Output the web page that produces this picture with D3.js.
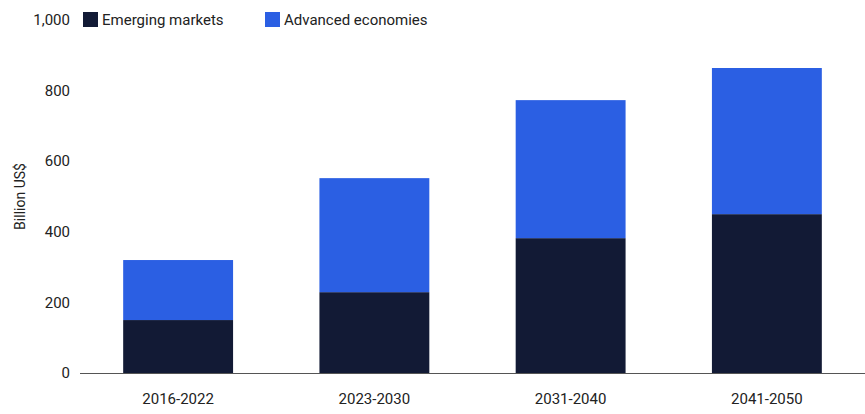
<!DOCTYPE html>
<html><head><meta charset="utf-8">
<script src="https://cdn.jsdelivr.net/npm/d3@7"></script>
<style>body{margin:0;background:#fff;font-family:"Roboto","Liberation Sans",sans-serif}</style>
</head><body><svg id="c" width="865" height="414"></svg>
<script>
categories = ["2016-2022", "2023-2030", "2031-2040", "2041-2050"]
emerging = [150, 229, 382, 450]
advanced = [170, 323, 391, 414]
y_ticks = [0, 200, 400, 600, 800, 1000]
series_names = ["Emerging markets", "Advanced economies"]
colors = ["#121a35", "#2b5fe3"]

var svg = d3.select("#c")
var x = d3.scaleBand().domain(categories).range([80, 865]).paddingInner(0.44).paddingOuter(0.22)
var y = d3.scaleLinear().domain([0, 1000]).range([373, 20])

// y axis labels
svg.append("g")
  .selectAll("text").data(y_ticks).join("text")
  .attr("x", 70).attr("y", d => y(d)).attr("dy", "0.35em")
  .attr("text-anchor", "end").attr("font-size", 15).attr("fill", "#222")
  .text(d => d3.format(",")(d))

svg.append("text")
  .attr("transform", "translate(25," + y(500) + ") rotate(-90)")
  .attr("text-anchor", "middle").attr("font-size", 14).attr("fill", "#222")
  .text("Billion US$")

var stacked = d3.stack().keys([0, 1])(categories.map((c, i) => [emerging[i], advanced[i]]))

svg.append("g").selectAll("g").data(stacked).join("g")
  .attr("fill", (d, i) => colors[i])
  .selectAll("rect").data(d => d).join("rect")
  .attr("x", (d, i) => x(categories[i]))
  .attr("width", x.bandwidth())
  .attr("y", d => y(d[1]))
  .attr("height", d => y(d[0]) - y(d[1]))

svg.append("line").attr("x1", 80).attr("x2", 865)
  .attr("y1", y(0) + 0.5).attr("y2", y(0) + 0.5).attr("stroke", "#555")

svg.append("g").selectAll("text").data(categories).join("text")
  .attr("x", d => x(d) + x.bandwidth() / 2).attr("y", 404)
  .attr("text-anchor", "middle").attr("font-size", 15).attr("fill", "#222")
  .text(d => d)

// legend
var lx = [83, 265]
var leg = svg.append("g").selectAll("g").data(series_names).join("g")
  .attr("transform", (d, i) => "translate(" + lx[i] + ",12)")
leg.append("rect").attr("width", 15).attr("height", 15).attr("fill", (d, i) => colors[i])
leg.append("text").attr("x", 19).attr("y", 8).attr("dy", "0.35em")
  .attr("font-size", 15).attr("fill", "#222").text(d => d)
</script></body></html>
